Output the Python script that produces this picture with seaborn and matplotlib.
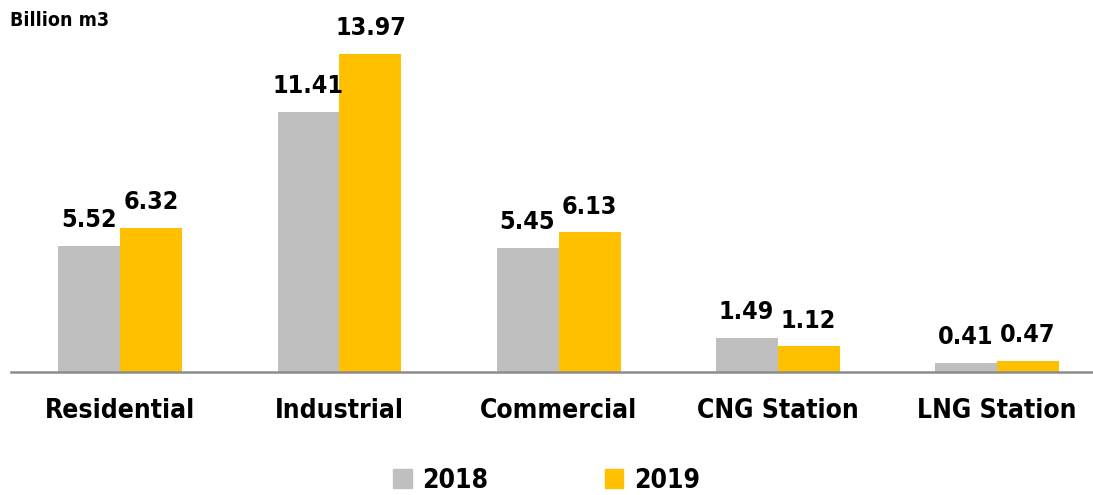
import os
import pandas as pd
import matplotlib.pyplot as plt
import seaborn as sns
from matplotlib import font_manager

# Gas consumption by sector (billion m3)
categories = ["Residential", "Industrial", "Commercial", "CNG Station", "LNG Station"]
years = ["2018", "2019"]
values_2018 = [5.52, 11.41, 5.45, 1.49, 0.41]
values_2019 = [6.32, 13.97, 6.13, 1.12, 0.47]
colors = ["#bfbfbf", "#ffc000"]

df = pd.DataFrame({
    "category": categories * 2,
    "year": [years[0]] * len(categories) + [years[1]] * len(categories),
    "value": values_2018 + values_2019,
})

sns.set_style("white")
plt.rcParams["font.family"] = ["DejaVu Sans"]


# look for a narrow bold font file, the chart uses a condensed heavy face
def find_condensed():
    files = [f.fname for f in font_manager.fontManager.ttflist]
    prefs = ["LiberationSansNarrow-Bold.", "DejaVuSansCondensed-Bold.", "Condensed-Bold", "CondensedBold", "Narrow-Bold"]
    for p in prefs:
        for f in files:
            if p.lower() in os.path.basename(f).lower() and "italic" not in f.lower() and "oblique" not in f.lower():
                return f
    return None


cond = find_condensed()


def fp(size):
    if cond:
        return font_manager.FontProperties(fname=cond, size=size)
    return font_manager.FontProperties(family="DejaVu Sans", weight="bold", stretch="condensed", size=size * 0.85)


fig = plt.figure(figsize=(10.93, 4.95), dpi=100)
ax = fig.add_axes([0.01, 0.2485, 0.99, 0.7515])

sns.barplot(data=df, x="category", y="value", hue="year", palette=colors,
            width=0.566, gap=0, saturation=1, linewidth=0, ax=ax, legend=False)

for cont in ax.containers:
    ax.bar_label(cont, fmt="%.2f", padding=10, fontproperties=fp(18), color="black")

ax.set_xlim(-0.5, 4.44)
ax.set_ylim(0, 16.34)
ax.set_xlabel("")
ax.set_ylabel("")
ax.set_yticks([])
ax.tick_params(axis="x", length=0, pad=19)
for lbl in ax.get_xticklabels():
    lbl.set_fontproperties(fp(19))
    lbl.set_color("black")
for side in ["top", "right", "left"]:
    ax.spines[side].set_visible(False)
ax.spines["bottom"].set_color("#8c8c8c")
ax.spines["bottom"].set_linewidth(1.8)

fig.text(0.009, 0.977, "Billion m3", fontproperties=fp(14), va="top", color="black")

handles = [plt.Rectangle((0, 0), 1, 1, color=c) for c in colors]
leg = fig.legend(handles, years, loc="lower center", bbox_to_anchor=(0.5, 0.003), ncol=2,
                 frameon=False, prop=fp(19), handlelength=0.7, handleheight=0.7,
                 handletextpad=0.4, columnspacing=4.4, borderpad=0, borderaxespad=0)
for t in leg.get_texts():
    t.set_color("black")

fig.savefig("out.png", dpi=100)
